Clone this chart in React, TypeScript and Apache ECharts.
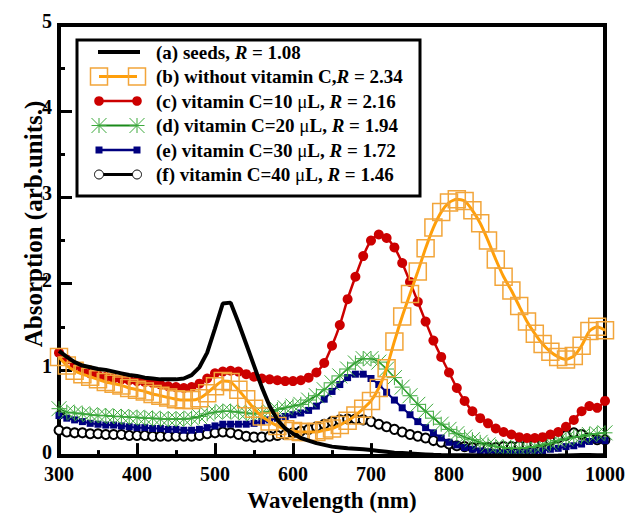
import React, { useEffect, useRef } from 'react';
import * as echarts from 'echarts';

const FONT = 'Liberation Serif';

const wavelength = [
  300, 310, 320, 330, 340, 350, 360, 370, 380, 390,
  400, 410, 420, 430, 440, 450, 460, 470, 480, 490,
  500, 510, 520, 530, 540, 550, 560, 570, 580, 590,
  600, 610, 620, 630, 640, 650, 660, 670, 680, 690,
  700, 710, 720, 730, 740, 750, 760, 770, 780, 790,
  800, 810, 820, 830, 840, 850, 860, 870, 880, 890,
  900, 910, 920, 930, 940, 950, 960, 970, 980, 990,
  1000,
];

const seeds = [
  1.22, 1.15, 1.09, 1.05, 1.03, 1.01, 1.0, 0.98, 0.96, 0.94,
  0.93, 0.91, 0.9, 0.89, 0.89, 0.89, 0.9, 0.94, 1.03, 1.2,
  1.48, 1.77, 1.78, 1.55, 1.3, 1.05, 0.8, 0.58, 0.42, 0.32,
  0.26, 0.21, 0.18, 0.15, 0.13, 0.11, 0.1, 0.09, 0.085, 0.08,
  0.07, 0.06, 0.05, 0.04, 0.035, 0.03, 0.025, 0.02, 0.015, 0.012,
  0.01, 0.01, 0.01, 0.009, 0.008, 0.007, 0.006, 0.006, 0.005, 0.005,
  0.005, 0.005, 0.005, 0.005, 0.006, 0.008, 0.01, 0.012, 0.012, 0.01,
  0.01,
];

const withoutVitC = [
  1.15, 1.05, 0.99, 0.95, 0.92, 0.89, 0.86, 0.84, 0.82, 0.79,
  0.77, 0.75, 0.72, 0.7, 0.68, 0.66, 0.65, 0.65, 0.67, 0.73,
  0.81, 0.87, 0.86, 0.77, 0.66, 0.55, 0.46, 0.4, 0.35, 0.31,
  0.29, 0.28, 0.28, 0.28, 0.3, 0.32, 0.36, 0.41, 0.47, 0.55,
  0.64, 0.79, 1.02, 1.33, 1.62, 1.88, 2.14, 2.41, 2.65, 2.83,
  2.94, 2.98, 2.96, 2.85, 2.7, 2.5, 2.28, 2.08, 1.92, 1.74,
  1.56, 1.42, 1.3, 1.21, 1.15, 1.12, 1.16, 1.28, 1.45, 1.5,
  1.46,
];

const vitC10 = [
  1.2, 1.12, 1.05, 1.0, 0.96, 0.94, 0.92, 0.9, 0.89, 0.88,
  0.87, 0.86, 0.85, 0.83, 0.81, 0.8, 0.79, 0.8, 0.84, 0.9,
  0.96, 0.98, 0.99, 0.98, 0.95, 0.92, 0.9, 0.89, 0.88, 0.87,
  0.87, 0.88, 0.91, 0.97, 1.08, 1.28, 1.52, 1.82, 2.08, 2.32,
  2.5, 2.57, 2.53, 2.42, 2.24, 2.02, 1.79, 1.56, 1.34, 1.15,
  0.97, 0.79, 0.64, 0.52, 0.44, 0.38, 0.32, 0.28, 0.25, 0.22,
  0.21, 0.21, 0.22, 0.25, 0.28, 0.34, 0.42, 0.52, 0.58, 0.56,
  0.64,
];

const vitC20 = [
  0.55, 0.51, 0.5, 0.49, 0.48, 0.47, 0.47, 0.46, 0.46, 0.45,
  0.45, 0.44, 0.44, 0.43, 0.43, 0.43, 0.43, 0.44, 0.46, 0.49,
  0.51, 0.52, 0.52, 0.51, 0.5, 0.49, 0.5, 0.52, 0.54, 0.56,
  0.58, 0.6, 0.65, 0.7, 0.77, 0.85, 0.93, 1.01, 1.08, 1.13,
  1.13, 1.09, 1.01, 0.91, 0.8, 0.7, 0.6, 0.52, 0.44, 0.37,
  0.31, 0.26, 0.22, 0.19, 0.16, 0.13, 0.11, 0.1, 0.09, 0.09,
  0.1, 0.11, 0.13, 0.15, 0.18, 0.2, 0.22, 0.23, 0.25, 0.26,
  0.27,
];

const vitC30 = [
  0.47, 0.44, 0.42, 0.4, 0.38, 0.37, 0.36, 0.36, 0.35, 0.34,
  0.33, 0.33, 0.32, 0.32, 0.31, 0.31, 0.3, 0.3, 0.31, 0.33,
  0.35, 0.37, 0.37, 0.37, 0.37, 0.38, 0.4, 0.42, 0.44, 0.46,
  0.48, 0.5, 0.53, 0.58, 0.66, 0.75, 0.83, 0.91, 0.95, 0.95,
  0.9, 0.83, 0.74, 0.65, 0.56, 0.48, 0.4, 0.33, 0.27, 0.21,
  0.16, 0.13, 0.1, 0.08, 0.06, 0.05, 0.04, 0.04, 0.04, 0.04,
  0.05, 0.05, 0.06, 0.08, 0.09, 0.11, 0.12, 0.14, 0.17, 0.19,
  0.18,
];

const vitC40 = [
  0.3, 0.28, 0.27, 0.27, 0.26, 0.26, 0.25, 0.25, 0.25, 0.24,
  0.24, 0.24, 0.23, 0.23, 0.23, 0.23, 0.23, 0.23, 0.24, 0.26,
  0.27, 0.28, 0.27, 0.25, 0.23, 0.22, 0.22, 0.23, 0.24, 0.25,
  0.27, 0.29, 0.31, 0.34, 0.37, 0.4, 0.42, 0.43, 0.43, 0.42,
  0.4, 0.37, 0.34, 0.31, 0.28, 0.25, 0.23, 0.21, 0.18, 0.16,
  0.14, 0.12, 0.11, 0.1, 0.1, 0.1, 0.1, 0.11, 0.11, 0.12,
  0.13, 0.14, 0.16, 0.18, 0.21, 0.24, 0.27, 0.25, 0.21, 0.19,
  0.19,
];

const xTicks = { min: 300, max: 1000, interval: 100 };
const yTicks = { min: 0, max: 5, interval: 1 };

const legendLabels = [
  { pre: '(a) seeds, ', post: ' = 1.08', mu: false },
  { pre: '(b) without vitamin C,', post: ' = 2.34', mu: false },
  { pre: '(c) vitamin C=10 ', post: ' = 2.16', mu: true },
  { pre: '(d) vitamin C=20 ', post: ' = 1.94', mu: true },
  { pre: '(e) vitamin C=30 ', post: ' = 1.72', mu: true },
  { pre: '(f) vitamin C=40 ', post: ' = 1.46', mu: true },
];

const STAR = 'path://M10,0L10,20M0,0L20,20M0,20L20,0M0,10L20,10';

const pairs = (vals: number[]) => wavelength.map((w, i) => [w, vals[i]]);

const COLORS = {
  orangeLine: '#FF9F0A',
  orangeSq: '#F2A53A',
  red: '#CC0000',
  greenLine: '#1A8A1A',
  greenStar: '#3DAA3D',
  navy: '#00007F',
};

function buildLegend(): any[] {
  const els: any[] = [];
  const x1 = 99;
  const x2 = 137;
  const rowY = [52, 76.5, 101, 125.5, 150, 174.5];
  els.push({
    type: 'rect',
    shape: { x: 77, y: 40, width: 343, height: 156 },
    style: { fill: '#fff', stroke: '#000', lineWidth: 3 },
    z: 100,
  });
  const z = 101;
  els.push({ type: 'line', shape: { x1: x1 - 1, y1: rowY[0], x2: x2 + 3, y2: rowY[0] }, style: { stroke: '#000', lineWidth: 4 }, z });
  els.push({ type: 'line', shape: { x1, y1: rowY[1], x2, y2: rowY[1] }, style: { stroke: COLORS.orangeLine, lineWidth: 3 }, z });
  [x1, x2].forEach((cx) =>
    els.push({ type: 'rect', shape: { x: cx - 8.5, y: rowY[1] - 8.5, width: 17, height: 17 }, style: { fill: 'none', stroke: COLORS.orangeSq, lineWidth: 1.5 }, z: z + 1 })
  );
  els.push({ type: 'line', shape: { x1, y1: rowY[2], x2, y2: rowY[2] }, style: { stroke: COLORS.red, lineWidth: 2.5 }, z });
  [x1, x2].forEach((cx) =>
    els.push({ type: 'circle', shape: { cx, cy: rowY[2], r: 4.8 }, style: { fill: COLORS.red }, z: z + 1 })
  );
  els.push({ type: 'line', shape: { x1, y1: rowY[3], x2, y2: rowY[3] }, style: { stroke: COLORS.greenLine, lineWidth: 2 }, z });
  [x1, x2].forEach((cx) => {
    const r = 7.5;
    const cy = rowY[3];
    [[0, -r, 0, r], [-r, -r, r, r], [-r, r, r, -r], [-r, 0, r, 0]].forEach((s) =>
      els.push({ type: 'line', shape: { x1: cx + s[0], y1: cy + s[1], x2: cx + s[2], y2: cy + s[3] }, style: { stroke: COLORS.greenStar, lineWidth: 1 }, z: z + 1 })
    );
  });
  els.push({ type: 'line', shape: { x1, y1: rowY[4], x2, y2: rowY[4] }, style: { stroke: COLORS.navy, lineWidth: 2.5 }, z });
  [x1, x2].forEach((cx) =>
    els.push({ type: 'rect', shape: { x: cx - 3.5, y: rowY[4] - 3.5, width: 7, height: 7 }, style: { fill: COLORS.navy }, z: z + 1 })
  );
  els.push({ type: 'line', shape: { x1, y1: rowY[5], x2, y2: rowY[5] }, style: { stroke: '#000', lineWidth: 3 }, z });
  [x1, x2].forEach((cx) =>
    els.push({ type: 'circle', shape: { cx, cy: rowY[5], r: 4.5 }, style: { fill: '#fff', stroke: '#000', lineWidth: 1 }, z: z + 1 })
  );
  legendLabels.forEach((lab, i) => {
    const text = lab.mu
      ? `{n|${lab.pre}}{m|μ}{n|L, }{i|R}{n|${lab.post}}`
      : `{n|${lab.pre}}{i|R}{n|${lab.post}}`;
    els.push({
      type: 'text',
      x: 156,
      y: rowY[i],
      z: z + 2,
      style: {
        text,
        verticalAlign: 'middle',
        align: 'left',
        fill: '#000',
        font: 'bold 19px Liberation Serif',
        rich: {
          n: { fontFamily: FONT, fontWeight: 'bold', fontSize: 19, fill: '#000' },
          i: { fontFamily: FONT, fontWeight: 'bold', fontStyle: 'italic', fontSize: 19, fill: '#000' },
          m: { fontFamily: FONT, fontWeight: 'normal', fontSize: 19, fill: '#000' },
        },
      },
    });
  });
  els.push({
    type: 'text',
    x: 33,
    y: 224,
    rotation: Math.PI / 2,
    z: 50,
    style: {
      text: 'Absorption (arb.units.)',
      align: 'center',
      verticalAlign: 'middle',
      font: 'bold 25px Liberation Serif',
      fill: '#000',
    },
  });
  return els;
}

export default function App() {
  const ref = useRef<HTMLDivElement>(null);
  useEffect(() => {
    if (!ref.current) return;
    const chart = echarts.init(ref.current, undefined, { renderer: 'svg' });
    const tickCommon = {
      axisLine: { show: true, lineStyle: { color: '#000', width: 4 } },
      axisTick: { show: true, inside: true, length: 13, lineStyle: { color: '#000', width: 3 } },
      minorTick: { show: true, splitNumber: 2, length: 6, lineStyle: { color: '#000', width: 3 } },
      splitLine: { show: false },
      minorSplitLine: { show: false },
    };
    const labelStyle = {
      color: '#000',
      fontFamily: FONT,
      fontWeight: 'bold',
      fontSize: 20,
      formatter: (v: number) => String(v),
    };
    chart.setOption({
      animation: false,
      backgroundColor: '#fff',
      textStyle: { fontFamily: FONT },
      grid: {
        left: 59,
        right: 22,
        top: 25,
        bottom: 52,
        show: true,
        borderColor: '#000',
        borderWidth: 4,
        backgroundColor: 'rgba(0,0,0,0)',
      },
      xAxis: {
        type: 'value',
        min: xTicks.min,
        max: xTicks.max,
        interval: xTicks.interval,
        ...tickCommon,
        axisLabel: { ...labelStyle, lineHeight: 14, margin: 11 },
        name: 'Wavelength (nm)',
        nameLocation: 'middle',
        nameGap: 27,
        nameTextStyle: { color: '#000', fontFamily: FONT, fontWeight: 'bold', fontSize: 23 },
      },
      yAxis: {
        type: 'value',
        min: yTicks.min,
        max: yTicks.max,
        interval: yTicks.interval,
        ...tickCommon,
        axisLabel: { ...labelStyle, lineHeight: 8, verticalAlign: 'bottom', margin: 7 },
      },
      graphic: buildLegend(),
      series: [
        {
          name: 'f',
          type: 'line',
          data: pairs(vitC40),
          smooth: 0.2,
          symbol: 'emptyCircle',
          symbolSize: 9,
          lineStyle: { color: '#000', width: 2 },
          itemStyle: { color: '#000', borderColor: '#000', borderWidth: 1 },
          z: 2,
        },
        {
          name: 'e',
          type: 'line',
          data: pairs(vitC30),
          smooth: 0.2,
          symbol: 'rect',
          symbolSize: 7,
          lineStyle: { color: COLORS.navy, width: 2 },
          itemStyle: { color: COLORS.navy },
          z: 3,
        },
        {
          name: 'd',
          type: 'line',
          data: pairs(vitC20),
          smooth: 0.2,
          symbol: STAR,
          symbolSize: 15,
          lineStyle: { color: COLORS.greenLine, width: 1.5 },
          itemStyle: { color: 'rgba(0,0,0,0)', borderColor: COLORS.greenStar, borderWidth: 1 },
          z: 4,
        },
        {
          name: 'c',
          type: 'line',
          data: pairs(vitC10),
          smooth: 0.2,
          symbol: 'circle',
          symbolSize: 10,
          lineStyle: { color: COLORS.red, width: 2.5 },
          itemStyle: { color: COLORS.red },
          z: 5,
        },
        {
          name: 'b',
          type: 'line',
          data: pairs(withoutVitC),
          smooth: 0.2,
          symbol: 'rect',
          symbolSize: 17,
          lineStyle: { color: COLORS.orangeLine, width: 3 },
          itemStyle: { color: 'rgba(0,0,0,0)', borderColor: COLORS.orangeSq, borderWidth: 1.5 },
          z: 6,
        },
        {
          name: 'a',
          type: 'line',
          data: pairs(seeds),
          smooth: false,
          showSymbol: false,
          symbol: 'none',
          lineStyle: { color: '#000', width: 4 },
          z: 7,
        },
      ],
    });
    return () => chart.dispose();
  }, []);
  return (
    <div
      ref={ref}
      style={{ position: 'fixed', left: 0, top: 0, width: 628, height: 517, background: '#fff' }}
    />
  );
}
